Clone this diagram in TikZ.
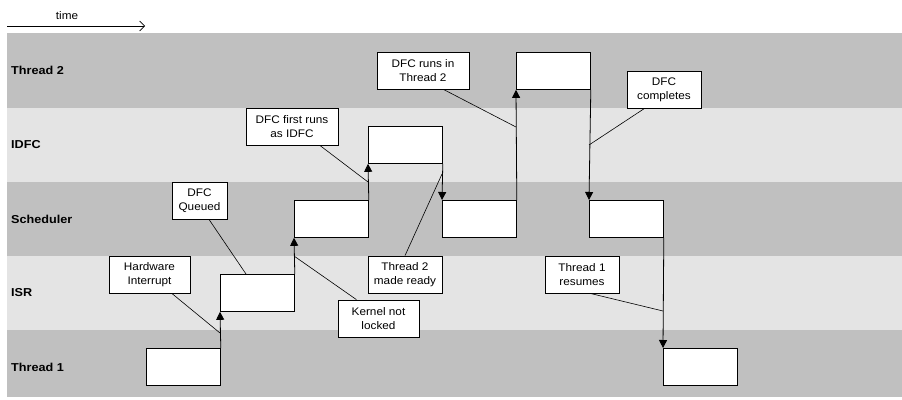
\documentclass[tikz,border=0pt]{standalone}
\usepackage{fontspec}
\setmainfont{Liberation Sans}
\newfontfamily\calloutfont[FakeStretch=1.07]{Liberation Sans}
\newfontfamily\lanefont[FakeStretch=1.1]{Liberation Sans}
\usetikzlibrary{arrows.meta,calc}
\definecolor{banddark}{RGB}{192,192,192}
\definecolor{bandlight}{RGB}{228,228,228}
\begin{document}
\begin{tikzpicture}[x=1pt,y=-1pt,
  lanelabel/.style={anchor=west,font=\lanefont\fontsize{11.5}{14}\selectfont\bfseries,inner sep=0pt},
  slice/.style={draw,fill=white,line width=0.8pt,anchor=north west,
    minimum width=74pt,minimum height=37pt,inner sep=0pt},
  callout/.style={draw,fill=white,line width=0.8pt,align=center,inner sep=0pt,
    minimum height=37pt,font=\calloutfont\fontsize{11}{14}\selectfont},
  flow/.style={line width=0.8pt,-{Triangle[length=8pt,width=8pt]}},
  pointer/.style={line width=0.6pt}]
\useasboundingbox (0,0) rectangle (902,399);
\fill[white] (0,0) rectangle (902,399);

% swim lanes
\fill[banddark]  (7,33)    rectangle (902,107.5);
\fill[bandlight] (7,107.5) rectangle (902,182);
\fill[banddark]  (7,182)   rectangle (902,256);
\fill[bandlight] (7,256)   rectangle (902,330);
\fill[banddark]  (7,330)   rectangle (902,397);

\node[lanelabel] (lt2)  at (11,70)  {Thread 2};
\node[lanelabel] (lidf) at (11,145) {IDFC};
\node[lanelabel] (lsch) at (11,219) {Scheduler};
\node[lanelabel] (lisr) at (11,293) {ISR};
\node[lanelabel] (lt1)  at (11,367) {Thread 1};

% time axis
\coordinate (ta) at (7,26);
\coordinate (tb) at (145,26);
\draw[line width=0.7pt,-{Straight Barb[length=5pt,width=10pt,line width=0.7pt]}] (ta) -- (tb);
\node[font=\calloutfont\fontsize{11}{14}\selectfont,anchor=base] (tlabel) at (67,19) {time};

% execution slices
\node[slice] (s1) at (146,348) {};
\node[slice] (s2) at (220,274) {};
\node[slice] (s3) at (294,200) {};
\node[slice] (s4) at (368,126) {};
\node[slice] (s5) at (442,200) {};
\node[slice] (s6) at (516,52)  {};
\node[slice] (s7) at (589,200) {};
\node[slice] (s8) at (663,348) {};

% transitions between contexts
\draw[flow] (s1.north east) -- (s2.south west);
\draw[flow] (s2.north east) -- (s3.south west);
\draw[flow] (s3.north east) -- (s4.south west);
\draw[flow] (s4.south east) -- (s5.north west);
\draw[flow] (s5.north east) -- (s6.south west);
\draw[flow] (s6.south east) -- (s7.north west);
\draw[flow] (s7.south east) -- (s8.north west);

% annotations
\node[callout,minimum width=81pt] (hw)   at (149.5,275)   {Hardware\\Interrupt};
\node[callout,minimum width=55pt] (dq)   at (199.5,200.5) {DFC\\Queued};
\node[callout,minimum width=81pt] (kn)   at (378.5,318.5) {Kernel not\\locked};
\node[callout,minimum width=74pt] (rdy)  at (405,274.5)   {Thread 2\\made ready};
\node[callout,minimum width=92pt] (idfc) at (292,126.5)   {DFC first runs\\as IDFC};
\node[callout,minimum width=92pt] (run)  at (423,70.5)    {DFC runs in\\Thread 2};
\node[callout,minimum width=74pt] (done) at (664,89.5)    {DFC\\completes};
\node[callout,minimum width=74pt] (res)  at (582,274.5)   {Thread 1\\resumes};

\coordinate (phw)   at (220,333);
\coordinate (pdq)   at (246,274);
\coordinate (pkn)   at (294,256);
\coordinate (prdy)  at (442,174);
\coordinate (pidfc) at (368,182);
\coordinate (prun)  at (516,127);
\coordinate (pdone) at (589,145);
\coordinate (pres)  at (663,311);

\draw[pointer] ($(hw.south west)!0.78!(hw.south east)$) -- (phw);
\draw[pointer] ($(dq.south west)!0.67!(dq.south east)$) -- (pdq);
\draw[pointer] ($(kn.north west)!0.23!(kn.north east)$) -- (pkn);
\draw[pointer] (rdy.north) -- (prdy);
\draw[pointer] ($(idfc.south west)!0.8!(idfc.south east)$) -- (pidfc);
\draw[pointer] ($(run.south west)!0.72!(run.south east)$) -- (prun);
\draw[pointer] ($(done.south west)!0.24!(done.south east)$) -- (pdone);
\draw[pointer] ($(res.south west)!0.61!(res.south east)$) -- (pres);
\end{tikzpicture}
\end{document}
